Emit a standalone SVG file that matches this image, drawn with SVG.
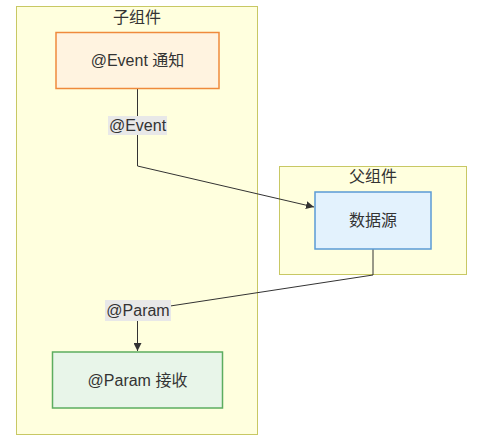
<svg xmlns="http://www.w3.org/2000/svg" width="482" height="440" viewBox="0 0 482 440">
<defs>
<marker id="arrow" viewBox="0 0 10 10" refX="10" refY="5" markerWidth="8" markerHeight="8" markerUnits="userSpaceOnUse" orient="auto">
<path d="M0,0 L10,5 L0,10 z" fill="#333"/>
</marker>
<style>
text{font-family:"Liberation Sans","Noto Sans CJK SC",sans-serif;font-size:16px;fill:#333;text-anchor:middle;dominant-baseline:central}
.cluster{fill:#ffffde;stroke:#c8c864;stroke-width:1}
.edge{fill:none;stroke:#333;stroke-width:1}
.lbl{fill:#e8e8e8}
</style>
</defs>
<g id="cluster-child">
<rect class="cluster" x="16.5" y="6.5" width="241" height="428"/>
<text x="137" y="17">子组件</text>
</g>
<g id="cluster-parent">
<rect class="cluster" x="279.5" y="166.5" width="187" height="108"/>
<text x="373" y="176">父组件</text>
</g>
<g id="connectors">
<polyline class="edge" points="137.5,89 137.5,166 314,207" marker-end="url(#arrow)"/>
<polyline class="edge" points="373,249 373,275 137.5,311 137.5,351" marker-end="url(#arrow)"/>
<rect class="lbl" x="108" y="116" width="59" height="19"/>
<text x="137.5" y="125.5">@Event</text>
<rect class="lbl" x="105" y="300" width="66" height="21"/>
<text x="138" y="310.5">@Param</text>
</g>
<g id="event-notify">
<rect x="56" y="32.5" width="163" height="56" fill="#fff3e0" stroke="#ef8a3c" stroke-width="1.5"/>
<text x="137.5" y="60.5">@Event 通知</text>
</g>
<g id="data-source">
<rect x="315" y="192" width="116" height="57" fill="#e3f2fd" stroke="#5b9bd5" stroke-width="1.5"/>
<text x="373" y="220.5">数据源</text>
</g>
<g id="param-receive">
<rect x="52.5" y="352" width="170" height="56" fill="#e8f5e9" stroke="#5cad5f" stroke-width="1.5"/>
<text x="137.5" y="380">@Param 接收</text>
</g>
</svg>
